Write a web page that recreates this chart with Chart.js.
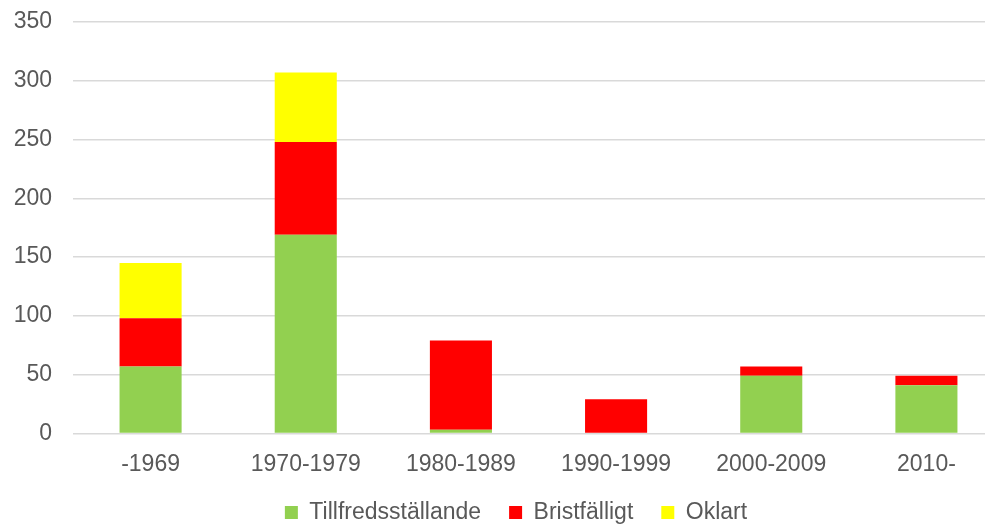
<!DOCTYPE html>
<html>
<head>
<meta charset="utf-8">
<script src="https://cdn.jsdelivr.net/npm/chart.js@4"></script>
<style>
  html, body { margin: 0; padding: 0; overflow: hidden; background: #fff; }
  #wrap { width: 1032px; height: 525px; }
</style>
</head>
<body>
<div id="wrap"><canvas id="stapel" width="1032" height="525"></canvas></div>
<script>
var kategorier = ["-1969", "1970-1979", "1980-1989", "1990-1999", "2000-2009", "2010-"];
var tillfredsstallande = [57, 169, 3, 0, 49, 41];
var bristfalligt = [41, 79, 76, 29, 8, 8];
var oklart = [47, 59, 0, 0, 0, 0];

Chart.defaults.font.family = "'Liberation Sans', Arial, sans-serif";
Chart.defaults.font.size = 23;
Chart.defaults.color = "#595959";

var ctx = document.getElementById("stapel").getContext("2d");
var chart = new Chart(ctx, {
  type: 'bar',
  data: {
    labels: kategorier,
    datasets: [
      { label: "Tillfredsställande", data: tillfredsstallande, backgroundColor: '#92d050' },
      { label: "Bristfälligt", data: bristfalligt, backgroundColor: '#ff0000' },
      { label: "Oklart", data: oklart, backgroundColor: '#ffff00' }
    ]
  },
  options: {
    responsive: false,
    animation: false,
    layout: { padding: { top: 22, right: 0, left: 0, bottom: -9 } },
    datasets: { bar: { categoryPercentage: 1, barPercentage: 0.4 } },
    scales: {
      x: {
        stacked: true,
        grid: { display: false },
        border: { display: false },
        ticks: { padding: 9 },
        afterFit: function (scale) { scale.height = scale.height - 14; }
      },
      y: {
        stacked: true,
        min: 0,
        max: 350,
        ticks: { stepSize: 50, padding: 0 },
        grid: { color: '#d9d9d9', lineWidth: 1.5, drawTicks: true, tickLength: 21, tickColor: 'rgba(0,0,0,0)' },
        border: { display: false },
        afterFit: function (scale) { scale.width = 73; }
      },
      hoger: {
        position: 'right',
        ticks: { display: false },
        grid: { display: false },
        border: { display: false },
        afterFit: function (scale) { scale.width = 28; }
      }
    },
    plugins: {
      tooltip: { enabled: false },
      legend: {
        position: 'bottom',
        labels: { boxWidth: 13, boxHeight: 13, padding: 28 }
      }
    }
  }
});
</script>
</body>
</html>
